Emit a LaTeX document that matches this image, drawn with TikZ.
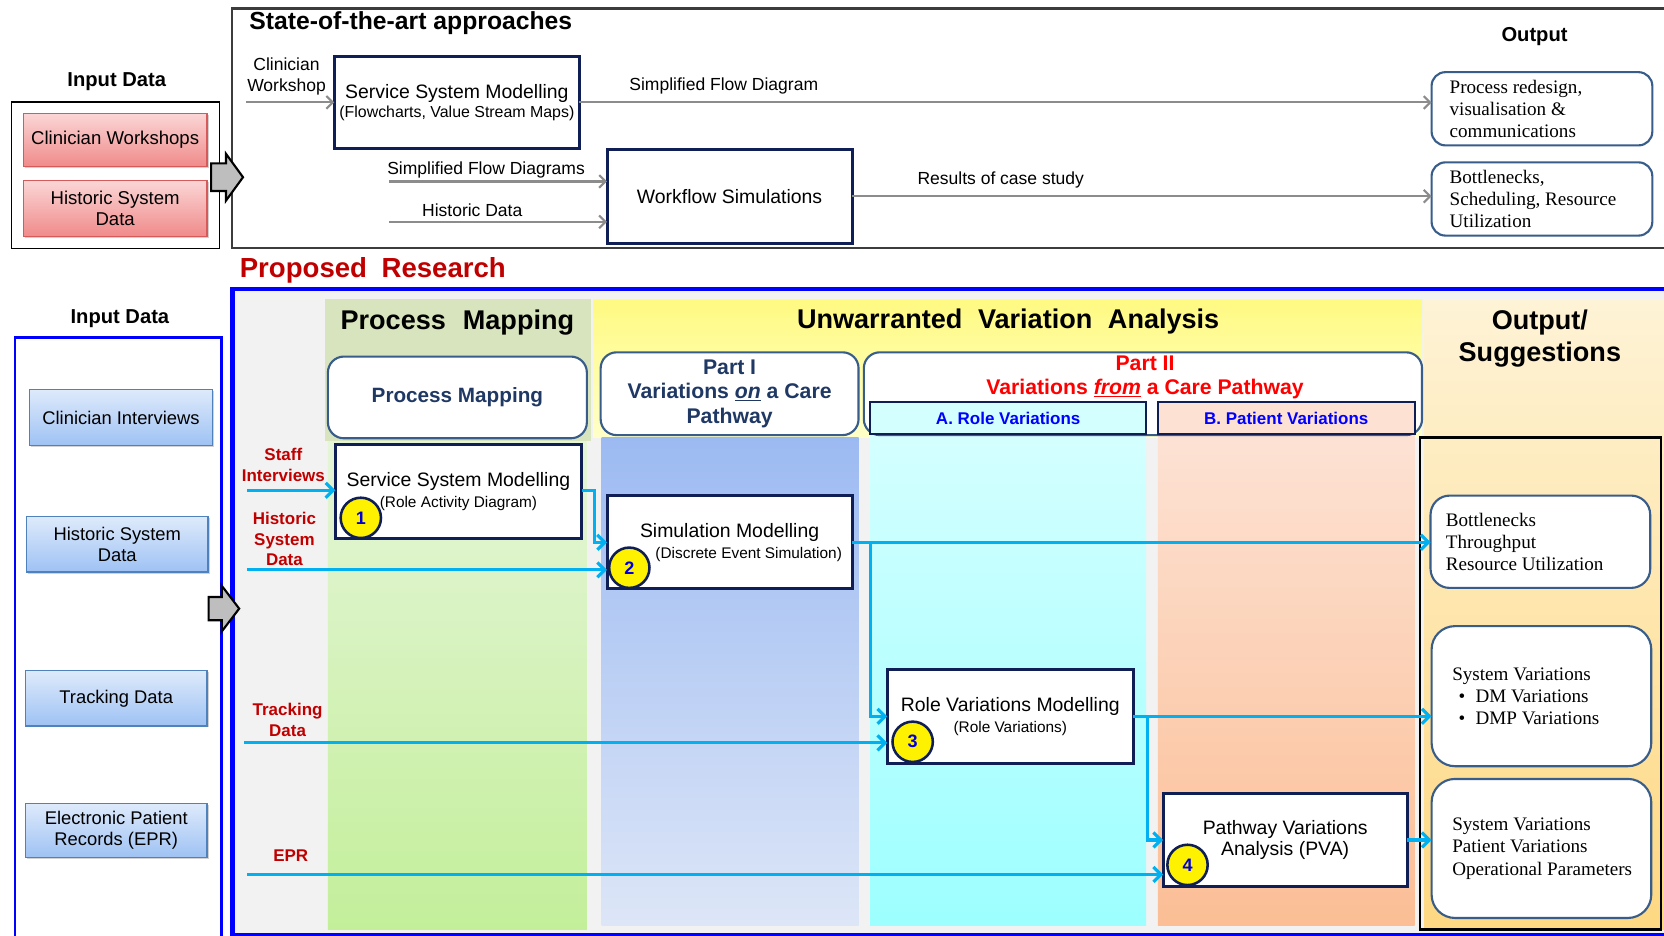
\documentclass[tikz,border=0pt]{standalone}
\usepackage{fontspec}
\setmainfont{Liberation Sans}
\newfontfamily\seriffont{Liberation Serif}
\usetikzlibrary{arrows.meta,shadows}
\newcommand\fsz[2]{\fontsize{#1}{#2}\selectfont}
\newcommand\ind{\hspace*{11pt}}
\definecolor{boxnavy}{RGB}{15,30,85}
\definecolor{steel}{RGB}{56,93,138}
\definecolor{framegray}{RGB}{60,60,60}
\definecolor{pureblue}{RGB}{0,0,255}
\definecolor{bggray}{RGB}{242,242,242}
\definecolor{pinktop}{RGB}{251,214,214}
\definecolor{pinkbot}{RGB}{240,138,138}
\definecolor{pinkborder}{RGB}{215,90,90}
\definecolor{bluetop}{RGB}{222,234,251}
\definecolor{bluebot}{RGB}{158,194,244}
\definecolor{blueborder}{RGB}{79,129,189}
\definecolor{arrgray}{RGB}{140,140,140}
\definecolor{blockgray}{RGB}{190,190,190}
\definecolor{cyanline}{RGB}{0,176,240}
\definecolor{labred}{RGB}{192,0,0}
\definecolor{partred}{RGB}{255,0,0}
\definecolor{headnavy}{RGB}{31,56,100}
\definecolor{numblue}{RGB}{0,0,220}
\definecolor{pmhead}{RGB}{215,228,189}
\definecolor{pmtop}{RGB}{229,245,216}
\definecolor{pmbot}{RGB}{195,239,154}
\definecolor{yelltop}{RGB}{255,250,130}
\definecolor{yellbot}{RGB}{255,255,200}
\definecolor{p1top}{RGB}{156,186,242}
\definecolor{p1bot}{RGB}{221,230,247}
\definecolor{cyantop}{RGB}{212,255,255}
\definecolor{cyanbot}{RGB}{157,255,255}
\definecolor{peachtop}{RGB}{253,226,212}
\definecolor{peachbot}{RGB}{251,190,149}
\definecolor{outtop}{RGB}{254,243,214}
\definecolor{outbot}{RGB}{254,216,130}
\begin{document}
\begin{tikzpicture}[x=1pt,y=-1pt,
  every node/.style={inner sep=0pt, outer sep=0pt},
  wh/.style 2 args={minimum width=#1pt, minimum height=#2pt},
  procbox/.style={draw=boxnavy, line width=2.8pt, fill=white, anchor=north west, align=center, font=\fsz{18.3}{20}},
  outbox/.style={draw=steel, line width=2pt, rounded corners=13pt, fill=white, anchor=north west, align=flush left, text width=190pt, font=\seriffont\fsz{18}{21}},
  pinkbox/.style={draw=pinkborder, line width=1.2pt, top color=pinktop, bottom color=pinkbot, anchor=north west, align=center, font=\fsz{17.5}{20}, drop shadow={shadow xshift=1.5pt, shadow yshift=-1.5pt, opacity=.35}},
  bluebox/.style={draw=blueborder, line width=1.2pt, top color=bluetop, bottom color=bluebot, anchor=north west, align=center, font=\fsz{17.3}{20}, drop shadow={shadow xshift=1.5pt, shadow yshift=-1.5pt, opacity=.35}},
  headbox/.style={draw=steel, line width=2pt, rounded corners=15pt, fill=white, anchor=north west, align=center},
  subbox/.style={draw=boxnavy, line width=2pt, anchor=north west, font=\bfseries\fsz{16}{18}, text=pureblue},
  numcirc/.style={circle, draw=boxnavy, line width=2.4pt, fill=yellow, minimum size=38pt, font=\bfseries\fsz{17}{17}, text=numblue},
  redlab/.style={font=\bfseries\fsz{16}{19.5}, text=labred, align=center},
  graylab/.style={font=\fsz{16.5}{19}},
  grayarr/.style={draw=arrgray, line width=2pt, -{Straight Barb[length=6pt,width=12pt]}},
  bluearr/.style={draw=cyanline, line width=3pt, -{Straight Barb[length=7pt,width=14pt]}},
  blockarr/.style={draw=black, line width=2pt, fill=blockgray, line join=miter},
  bighead/.style={font=\bfseries\fsz{25.5}{30}, align=center},
]
\useasboundingbox (0,0) rectangle (1568,882);
\fill[white] (0,0) rectangle (1568,882);

% ---------------- top: state of the art ----------------
\node[draw=framegray, line width=2pt, anchor=north west, wh={1400}{226}] (topframe) at (219,8) {};
\node[draw=black, line width=1.5pt, anchor=north west, wh={196}{138}] (topinput) at (11,96) {};
\node[font=\bfseries\fsz{23.3}{25}, anchor=west] (sotatitle) at (235,22) {State-of-the-art approaches};
\node[font=\bfseries\fsz{19}{22}] (inlab1) at (110,77) {Input Data};
\node[pinkbox, wh={173}{50}] (cw) at (22,107) {Clinician Workshops};
\node[pinkbox, wh={173}{53}] (hsd1) at (22,170) {Historic System\\Data};
\draw[blockarr] (199,154) -- (213,154) -- (213,145) -- (229,167) -- (213,189) -- (213,180) -- (199,180) -- cycle;

\node[font=\fsz{16.5}{19}, align=center] (cwlab) at (270,72) {Clinician\\Workshop};
\node[procbox, wh={231}{87}] (ssm1) at (315,53) {Service System Modelling\\[-2pt]{\fsz{15}{17}(Flowcharts, Value Stream Maps)}};
\node[procbox, wh={231}{88}] (ws) at (572,141) {Workflow Simulations};
\node[font=\bfseries\fsz{19}{22}] (outlab) at (1446,34) {Output};
\node[outbox, wh={208}{69}] (out1) at (1349,68) {\hspace*{8pt}Process redesign,\\\hspace*{8pt}visualisation \&\\\hspace*{8pt}communications};
\node[outbox, wh={208}{69}] (out2) at (1349,153) {\hspace*{8pt}Bottlenecks,\\\hspace*{8pt}Scheduling, Resource\\\hspace*{8pt}Utilization};

\node[graylab] (sfdlab) at (682,81) {Simplified Flow Diagram};
\node[graylab] (sfdslab) at (458,160) {Simplified Flow Diagrams};
\node[graylab] (hdlab) at (445,198) {Historic Data};
\node[graylab] (rcslab) at (943,170) {Results of case study};

\coordinate (cwin) at (232,96.5);
\coordinate (sfdin) at (367,171);
\coordinate (hdin) at (367,209);
\draw[grayarr] (cwin) -- (cwin -| ssm1.west);
\draw[grayarr] (ssm1.east) -- (ssm1.east -| out1.west);
\draw[grayarr] (sfdin) -- (sfdin -| ws.west);
\draw[grayarr] (hdin) -- (hdin -| ws.west);
\draw[grayarr] (ws.east) -- (ws.east -| out2.west);

% ---------------- bottom: proposed research ----------------
\node[font=\bfseries\fsz{26}{28}, text=labred, anchor=west] (prtitle) at (226,255) {Proposed\hspace{0.25em} Research};
\node[font=\bfseries\fsz{19}{22}] (inlab2) at (113,300) {Input Data};
\node[draw=pureblue, line width=2.5pt, anchor=north west, wh={195}{600}] (botinput) at (14,318) {};
\node[draw=pureblue, line width=4pt, fill=bggray, anchor=north west, wh={1400}{609}] (prframe) at (219,272) {};

% column bands
\fill[pmhead] (306,282) rectangle (557,416);
\shade[top color=pmtop, bottom color=pmbot] (309,416) rectangle (553,876);
\shade[top color=yelltop, bottom color=yellbot] (559,282) rectangle (1340,412);
\shade[top color=p1top, bottom color=p1bot] (567,412) rectangle (809,872);
\shade[top color=cyantop, bottom color=cyanbot] (820,409) rectangle (1080,872);
\shade[top color=peachtop, bottom color=peachbot] (1091,409) rectangle (1333,872);
\shade[top color=outtop, bottom color=outbot] (1342,282) rectangle (1568,876);

\node[bighead] (pmhd) at (431,304) {Process\hspace{0.35em} Mapping};
\node[bighead] (uvahd) at (950,303) {Unwarranted\hspace{0.3em} Variation\hspace{0.3em} Analysis};
\node[bighead] (outhd) at (1451,319) {Output/\\Suggestions};

\node[headbox, wh={244}{77}, font=\bfseries\fsz{19.5}{23}, text=headnavy] (pmbox) at (309,336) {Process Mapping};
\node[headbox, wh={243}{78}, font=\bfseries\fsz{20}{23}, text=headnavy] (p1box) at (566,332) {Part I\\Variations \underline{\textit{on}} a Care\\Pathway};
\node[headbox, wh={526}{78}] (p2box) at (814,332) {};
\node[font=\bfseries\fsz{20}{23}, text=partred, align=center] (p2text) at (1079,355.5) {Part II\\Variations \underline{\textit{from}} a Care Pathway};
\node[subbox, fill=cyantop, wh={260}{30}] (abox) at (820,379) {A. Role Variations};
\node[subbox, fill=peachtop, wh={242}{30}] (bbox) at (1091,379) {B. Patient Variations};

% input boxes
\node[bluebox, wh={172}{53}] (ci) at (28,367) {Clinician Interviews};
\node[bluebox, wh={171}{52}] (hsd2) at (25,487) {Historic System\\Data};
\node[bluebox, wh={171}{52}] (td) at (24,632) {Tracking Data};
\node[bluebox, wh={171}{51}] (epr) at (24,757) {Electronic Patient\\Records (EPR)};
\draw[blockarr] (196.6,562.5) -- (209,562.5) -- (209,552) -- (225.4,573.5) -- (209,595) -- (209,584.5) -- (196.6,584.5) -- cycle;

% output column
\node[draw=black, line width=2.5pt, anchor=north west, wh={227}{464}] (outcol) at (1338,412) {};
\node[outbox, rounded corners=18pt, wh={207}{87}] (oa) at (1348,467) {\hspace*{6pt}Bottlenecks\\\hspace*{6pt}Throughput\\\hspace*{6pt}Resource Utilization};
\node[outbox, rounded corners=22pt, wh={207}{132}] (ob) at (1349,590) {\ind System Variations\\\ind\hspace*{6pt}\makebox[16pt][l]{•}DM Variations\\\ind\hspace*{6pt}\makebox[16pt][l]{•}DMP Variations};
\node[outbox, rounded corners=22pt, wh={207}{131}] (oc) at (1349,734) {\ind System Variations\\\ind Patient Variations\\\ind Operational Parameters};

% process boxes
\node[procbox, wh={232}{88}] (ssm2) at (316,419) {Service System Modelling\\{\fsz{14.5}{17}(Role Activity Diagram)}};
\node[procbox, wh={231}{88}] (simm) at (572,467) {Simulation Modelling\\{\fsz{14.5}{17}\hspace*{36pt}(Discrete Event Simulation)}};
\node[procbox, wh={232}{88}] (rvm) at (836,631) {Role Variations Modelling\\{\fsz{14.5}{17}(Role Variations)}};
\node[procbox, wh={230}{87}] (pva) at (1096,748) {Pathway Variations\\Analysis (PVA)};

% red labels
\node[redlab] (lstaff) at (267,438) {Staff\\Interviews};
\node[redlab] (lhist) at (268,508) {Historic\\System\\Data};
\node[redlab] (ltrack) at (271,678.5) {Tracking\\Data};
\node[redlab] (lepr) at (274,806) {EPR};

% connectors
\coordinate (sin) at (233,462);
\coordinate (hin) at (233,537);
\coordinate (tin) at (230,700);
\coordinate (ein) at (233,824);
\coordinate (j1) at (560,462);
\coordinate (j2) at (820,511);
\coordinate (j3) at (1081,674);
\draw[bluearr] (sin) -- (sin -| ssm2.west);
\draw[bluearr] (hin) -- (hin -| simm.west);
\draw[bluearr] (ssm2.east |- j1) -- (j1) |- (simm.west);
\draw[bluearr] (simm.east) -- (simm.east -| oa.west);
\draw[bluearr] (j2) |- (rvm.west);
\draw[bluearr] (tin) -- (tin -| rvm.west);
\draw[bluearr] (rvm.east) -- (rvm.east -| ob.west);
\draw[bluearr] (j3) |- (pva.west);
\draw[bluearr] (ein) -- (ein -| pva.west);
\draw[bluearr] (pva.east) -- (pva.east -| oc.west);

% number circles
\node[numcirc] (c1) at (340,488) {1};
\node[numcirc] (c2) at (593,535) {2};
\node[numcirc] (c3) at (860,699) {3};
\node[numcirc] (c4) at (1119,815) {4};
\end{tikzpicture}
\end{document}
